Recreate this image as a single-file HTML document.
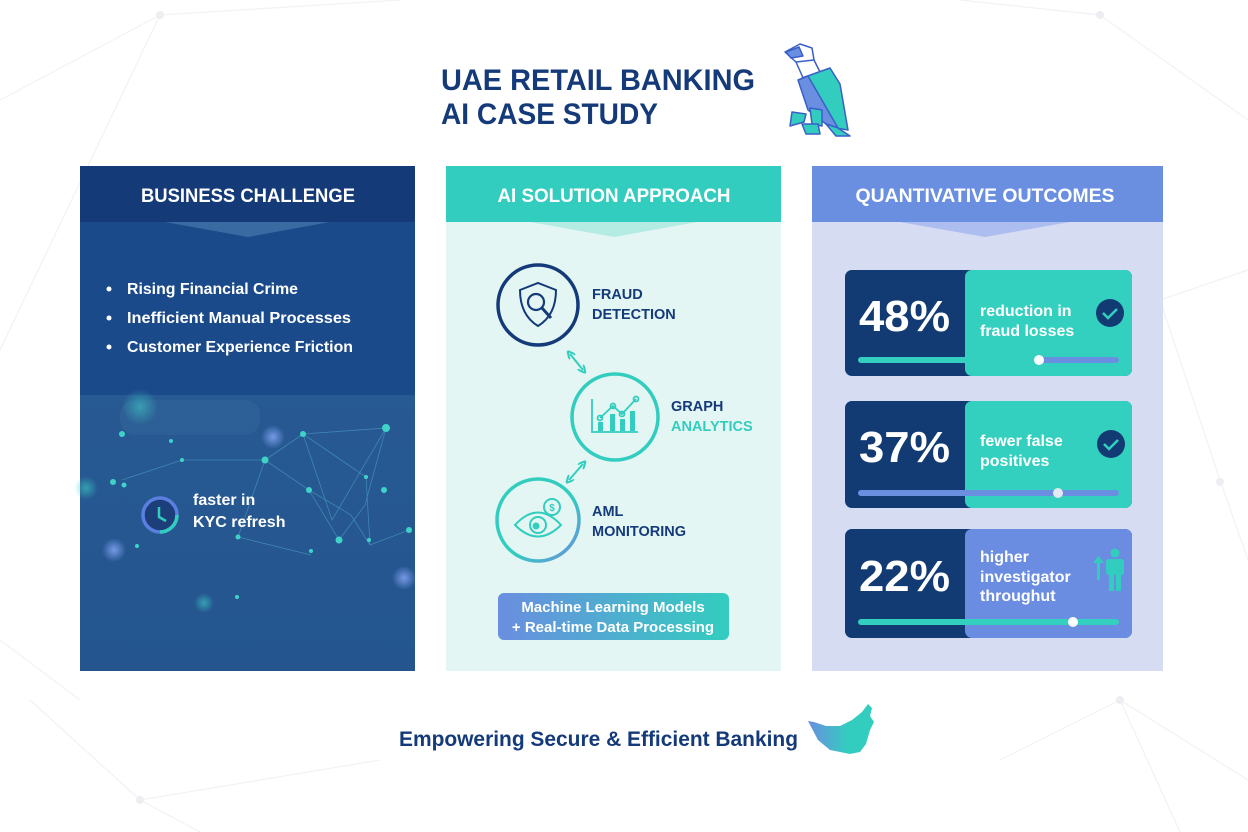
<!DOCTYPE html>
<html><head><meta charset="utf-8"><style>
html,body{margin:0;padding:0;background:#fff;width:1248px;height:832px;overflow:hidden}
svg{display:block}
text{font-family:"Liberation Sans",sans-serif;font-weight:bold}
</style></head><body>
<svg width="1248" height="832" viewBox="0 0 1248 832" xmlns="http://www.w3.org/2000/svg">
<defs>
<linearGradient id="amlg" x1="0" y1="0" x2="1" y2="1"><stop offset="0" stop-color="#33cdbf"/><stop offset="0.55" stop-color="#33cdbf"/><stop offset="1" stop-color="#6a8ee0"/></linearGradient>
<linearGradient id="btn" x1="0" y1="0" x2="1" y2="0"><stop offset="0" stop-color="#6a8ee0"/><stop offset="1" stop-color="#33cdbf"/></linearGradient>
<linearGradient id="map" x1="0" y1="0" x2="1" y2="0"><stop offset="0" stop-color="#6a8ee0"/><stop offset="0.6" stop-color="#33cdbf"/></linearGradient>
<linearGradient id="low" x1="0" y1="0" x2="0" y2="1"><stop offset="0" stop-color="#2a5c94"/><stop offset="1" stop-color="#24558f"/></linearGradient>
<radialGradient id="glow"><stop offset="0" stop-color="#7fa0f0" stop-opacity="0.9"/><stop offset="1" stop-color="#7fa0f0" stop-opacity="0"/></radialGradient>
<radialGradient id="glowt"><stop offset="0" stop-color="#3fd0c8" stop-opacity="0.6"/><stop offset="1" stop-color="#3fd0c8" stop-opacity="0"/></radialGradient>
<marker id="ah" viewBox="0 0 10 10" refX="5" refY="5" markerWidth="4" markerHeight="4" orient="auto-start-reverse"><path d="M0 0 L10 5 L0 10" fill="none" stroke="#33cdbf" stroke-width="2.5"/></marker>
</defs>
<g stroke="#f1f2f5" stroke-width="1.2" fill="none">
<path d="M0 350 L160 15 L400 0 M160 15 L0 100 M1100 15 L1248 120 M1100 15 L960 0 M1160 300 L1248 270 M1220 480 L1160 300 M1220 480 L1248 560 M30 700 L140 800 L380 760 M140 800 L200 832 M1000 760 L1120 700 L1248 780 M1120 700 L1180 832 M0 640 L80 700"/>
</g>
<g fill="#eceef2"><circle cx="160" cy="15" r="4"/><circle cx="1100" cy="15" r="4"/><circle cx="1220" cy="482" r="4"/><circle cx="140" cy="800" r="4"/><circle cx="1120" cy="700" r="4"/></g>

<text x="441" y="90" font-size="30" fill="#153a7a" textLength="314" lengthAdjust="spacingAndGlyphs">UAE RETAIL BANKING</text>
<text x="441" y="124" font-size="30" fill="#153a7a" textLength="217" lengthAdjust="spacingAndGlyphs">AI CASE STUDY</text>
<!-- eagle -->
<g stroke="#3a5fc8" stroke-width="1.5" stroke-linejoin="round">
<polygon points="785,52 800,44 812,48 814,60 804,66 796,62" fill="#fff"/>
<polygon points="786,52 799,47 803,56 791,58" fill="#6a8ee0"/>
<polygon points="796,62 814,60 820,72 804,80" fill="#fff"/>
<polygon points="802,78 830,68 840,84 848,130 836,128" fill="#33cdbf"/>
<polygon points="798,80 808,76 838,128 826,124 808,110" fill="#6a8ee0"/>
<polygon points="826,124 838,128 850,136 836,136" fill="#33cdbf"/>
<polygon points="810,108 822,110 822,126 812,124" fill="#33cdbf"/>
<polygon points="792,112 806,114 804,122 790,126" fill="#33cdbf"/>
<polygon points="802,124 818,124 820,134 806,134" fill="#33cdbf"/>
</g>

<!-- PANEL 1 -->
<rect x="80" y="166" width="335" height="505" fill="url(#low)"/>
<rect x="80" y="166" width="335" height="229" fill="#1b4a8a"/>
<rect x="80" y="166" width="335" height="56" fill="#143a78"/>
<polygon points="165,222 330,222 248,237" fill="#3a6aa2"/>
<text x="248" y="202" font-size="19" fill="#fff" text-anchor="middle" textLength="214" lengthAdjust="spacingAndGlyphs">BUSINESS CHALLENGE</text>
<g fill="#fff" font-size="16">
<circle cx="109" cy="289" r="2.5"/><circle cx="109" cy="318" r="2.5"/><circle cx="109" cy="347" r="2.5"/>
<text x="127" y="294" textLength="171" lengthAdjust="spacingAndGlyphs">Rising Financial Crime</text>
<text x="127" y="323" textLength="224" lengthAdjust="spacingAndGlyphs">Inefficient Manual Processes</text>
<text x="127" y="352" textLength="226" lengthAdjust="spacingAndGlyphs">Customer Experience Friction</text>
</g>
<g stroke="#4fa8c8" stroke-width="0.8" opacity="0.6" fill="none">
<path d="M265 460 L303 434 L386 428 L365 505 L339 540 L309 490 L265 460 L238 537 M303 434 L332 520 L386 428 M309 490 L351 515 L370 545 L409 530 M303 434 L366 477 L370 545 M182 460 L265 460 M122 480 L182 460 M238 537 L311 555"/>
</g>
<g fill="#3fd3c8">
<circle cx="386" cy="428" r="4"/><circle cx="303" cy="434" r="3"/><circle cx="265" cy="460" r="3.5"/><circle cx="309" cy="490" r="3"/><circle cx="339" cy="540" r="3.5"/><circle cx="238" cy="537" r="2.5"/><circle cx="366" cy="477" r="2"/><circle cx="122" cy="434" r="3"/><circle cx="113" cy="482" r="3"/><circle cx="124" cy="485" r="2.5"/><circle cx="171" cy="441" r="2"/><circle cx="182" cy="460" r="2"/><circle cx="137" cy="546" r="2"/><circle cx="237" cy="597" r="2"/><circle cx="311" cy="551" r="2"/><circle cx="369" cy="540" r="2"/><circle cx="384" cy="490" r="3"/><circle cx="409" cy="530" r="3"/>
</g>
<circle cx="273" cy="437" r="12" fill="url(#glow)"/><circle cx="114" cy="550" r="12" fill="url(#glow)"/><circle cx="404" cy="578" r="12" fill="url(#glow)"/><circle cx="204" cy="603" r="10" fill="url(#glowt)"/><circle cx="140" cy="407" r="18" fill="url(#glowt)"/><circle cx="86" cy="488" r="12" fill="url(#glowt)"/>
<rect x="120" y="400" width="140" height="35" rx="15" fill="#4f90b8" opacity="0.15"/>
<circle cx="160" cy="515" r="17" fill="#1c3f7a" stroke="#5a7fe0" stroke-width="3.5"/>
<path d="M177 515 A17 17 0 0 1 160 532" stroke="#33cdbf" stroke-width="3.5" fill="none"/>
<path d="M159 507 L159 517 L166 521" stroke="#33cdbf" stroke-width="2.5" fill="none"/>
<text x="193" y="505" font-size="16" fill="#fff">faster in</text>
<text x="193" y="527" font-size="16" fill="#fff">KYC refresh</text>

<!-- PANEL 2 -->
<rect x="446" y="166" width="335" height="505" fill="#e3f6f3"/>
<rect x="446" y="166" width="335" height="56" fill="#33cdbf"/>
<polygon points="530,222 697,222 614,237" fill="#b4ece4"/>
<text x="614" y="202" font-size="19" fill="#fff" text-anchor="middle" textLength="233" lengthAdjust="spacingAndGlyphs">AI SOLUTION APPROACH</text>
<circle cx="538" cy="305" r="40" fill="none" stroke="#153a7a" stroke-width="3.5"/>
<path d="M520 290 L538 283 L556 290 Q556 315 538 326 Q520 315 520 290Z" fill="none" stroke="#153a7a" stroke-width="2"/>
<circle cx="536" cy="302" r="8" fill="none" stroke="#153a7a" stroke-width="2.2"/><path d="M542 308 L551 318" stroke="#153a7a" stroke-width="3"/>
<text x="592" y="299" font-size="14.5" fill="#153a7a">FRAUD</text>
<text x="592" y="319" font-size="14.5" fill="#153a7a">DETECTION</text>
<path d="M570 354 L583 370" stroke="#33cdbf" stroke-width="2" fill="none" marker-start="url(#ah)" marker-end="url(#ah)"/>
<path d="M583 464 L569 480" stroke="#33cdbf" stroke-width="2" fill="none" marker-start="url(#ah)" marker-end="url(#ah)"/>
<circle cx="615" cy="417" r="43" fill="none" stroke="#33cdbf" stroke-width="3.5"/>
<g stroke="#33cdbf" stroke-width="1.8" fill="none"><path d="M592 399 L592 432 L638 432"/><path d="M600 418 L613 406 L622 414 L636 399"/><circle cx="600" cy="418" r="2.5"/><circle cx="613" cy="406" r="2.5"/><circle cx="622" cy="414" r="2.5"/><circle cx="636" cy="399" r="2.5"/></g>
<g fill="#33cdbf"><rect x="598" y="422" width="5" height="9"/><rect x="610" y="414" width="5" height="17"/><rect x="620" y="419" width="5" height="12"/><rect x="630" y="411" width="5" height="20"/></g>
<text x="671" y="411" font-size="14.5" fill="#153a7a">GRAPH</text>
<text x="671" y="431" font-size="14.5" fill="#33cdbf">ANALYTICS</text>
<circle cx="538" cy="520" r="41" fill="none" stroke="url(#amlg)" stroke-width="3.5"/>
<path d="M515 525 Q538 500 561 525 Q538 548 515 525Z" fill="none" stroke="#33cdbf" stroke-width="2"/>
<circle cx="538" cy="525" r="8" fill="none" stroke="#33cdbf" stroke-width="2"/><circle cx="536" cy="526" r="3.5" fill="#33cdbf"/>
<circle cx="552" cy="507" r="8" fill="#e3f6f3" stroke="#33cdbf" stroke-width="2"/><text x="552" y="511" font-size="10" fill="#33cdbf" text-anchor="middle">$</text>
<text x="592" y="516" font-size="14.5" fill="#153a7a">AML</text>
<text x="592" y="536" font-size="14.5" fill="#153a7a">MONITORING</text>
<rect x="498" y="593" width="231" height="47" rx="6" fill="url(#btn)"/>
<text x="613" y="612" font-size="15" fill="#fff" text-anchor="middle">Machine Learning Models</text>
<text x="613" y="632" font-size="15" fill="#fff" text-anchor="middle">+ Real-time Data Processing</text>

<!-- PANEL 3 -->
<rect x="812" y="166" width="351" height="505" fill="#d6ddf3"/>
<rect x="812" y="166" width="351" height="56" fill="#6a8ee0"/>
<polygon points="900,222 1070,222 985,237" fill="#aebdef"/>
<text x="985" y="202" font-size="19" fill="#fff" text-anchor="middle" textLength="259" lengthAdjust="spacingAndGlyphs">QUANTIVATIVE OUTCOMES</text>

<rect x="845" y="270" width="287" height="106" rx="7" fill="#133b73"/>
<rect x="965" y="270" width="167" height="106" rx="7" fill="#33d0c0"/>
<text x="859" y="331" font-size="44" fill="#fff" textLength="91" lengthAdjust="spacingAndGlyphs">48%</text>
<text x="980" y="316" font-size="16" fill="#fff">reduction in</text>
<text x="980" y="336" font-size="16" fill="#fff">fraud losses</text>
<circle cx="1110" cy="313" r="14" fill="#133b73"/><path d="M1103 313 l5 5 l9 -9" stroke="#33d0c0" stroke-width="2.5" fill="none"/>
<rect x="858" y="357" width="112" height="6" rx="3" fill="#33d0c0"/>
<rect x="1039" y="357" width="80" height="6" rx="3" fill="#6a8ee0"/>
<circle cx="1039" cy="360" r="5" fill="#fff"/>
<rect x="845" y="401" width="287" height="107" rx="7" fill="#133b73"/>
<rect x="965" y="401" width="167" height="107" rx="7" fill="#33d0c0"/>
<text x="859" y="462" font-size="44" fill="#fff" textLength="91" lengthAdjust="spacingAndGlyphs">37%</text>
<text x="980" y="446" font-size="16" fill="#fff">fewer false</text>
<text x="980" y="466" font-size="16" fill="#fff">positives</text>
<circle cx="1111" cy="444" r="14" fill="#133b73"/><path d="M1104 444 l5 5 l9 -9" stroke="#33d0c0" stroke-width="2.5" fill="none"/>
<rect x="858" y="490" width="261" height="6" rx="3" fill="#6a8ee0"/>
<circle cx="1058" cy="493" r="5" fill="#e4e8f4"/>
<rect x="845" y="529" width="287" height="109" rx="7" fill="#133b73"/>
<rect x="965" y="529" width="167" height="109" rx="7" fill="#6a8de2"/>
<text x="859" y="591" font-size="44" fill="#fff" textLength="91" lengthAdjust="spacingAndGlyphs">22%</text>
<text x="980" y="562" font-size="16" fill="#fff">higher</text>
<text x="980" y="582" font-size="16" fill="#fff">investigator</text>
<text x="980" y="601" font-size="16" fill="#fff">throughut</text>
<g fill="#33cdbf"><circle cx="1115" cy="553" r="4.5"/><rect x="1106" y="559" width="18" height="16" rx="3"/><rect x="1109" y="572" width="5" height="19"/><rect x="1116" y="572" width="5" height="19"/><rect x="1097" y="562" width="3" height="18"/><polygon points="1093,563 1104,563 1098.5,556"/></g>
<rect x="858" y="619" width="261" height="6" rx="3" fill="#33d0c0"/>
<circle cx="1073" cy="622" r="5" fill="#fff"/>

<text x="399" y="746" font-size="21" fill="#153a7a" textLength="399" lengthAdjust="spacingAndGlyphs">Empowering Secure &amp; Efficient Banking</text>
<polygon points="808,721 814,722 820,724 826,726 840,726 852,720 862,712 868,704 872,708 870,716 874,722 870,730 866,744 860,752 850,754 830,750 818,740" fill="url(#map)"/>
</svg>
</body></html>
